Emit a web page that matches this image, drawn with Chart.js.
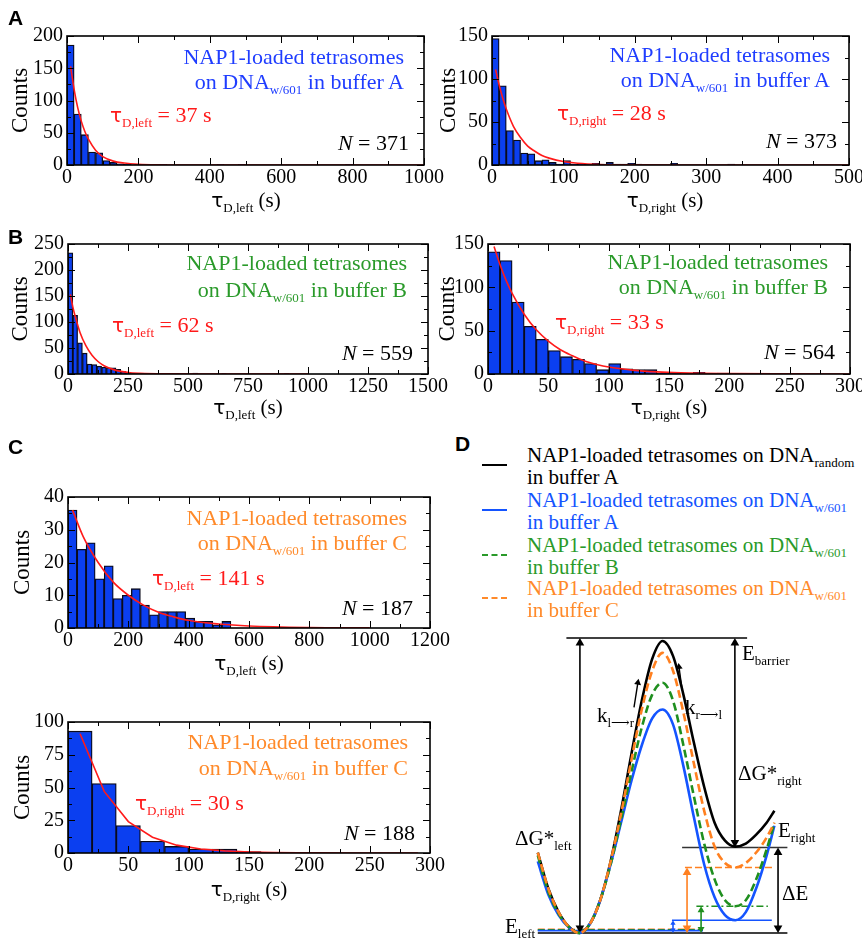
<!DOCTYPE html>
<html>
<head>
<meta charset="utf-8">
<script src="https://cdn.jsdelivr.net/npm/chart.js@4.4.1/dist/chart.umd.min.js"></script>
<style>
  body { margin:0; width:862px; height:938px; position:relative; overflow:hidden; background:#fff; font-family:"Liberation Serif", "DejaVu Serif", serif; }
  canvas { position:absolute; }
  .lbl { position:absolute; white-space:nowrap; font-size:21px; line-height:1; }
  .ann { font-size:22px; }
  .lbl sub { font-size:13px; vertical-align:-5px; line-height:0; }
  .tau { font-family:"DejaVu Sans", sans-serif; font-size:20px; }
  .letter { position:absolute; white-space:nowrap; font-family:"Liberation Sans", Arial, sans-serif; font-weight:bold; font-size:21px; line-height:1; }
  .sw { position:absolute; width:25px; height:0; border-top:2px solid #000; }
</style>
</head>
<body>
<script>
// ---- histogram data ----
// A: buffer A, left / right dwell times
var binA1 = 20;
var countsA1 = [186,79,47,20,19,7,4,2,1,0, 1,0,1,1,0,0,0,0,0,0, 0,1,0,0,1,0,0,0,0,0,
                0,0,0,0,0,0,0,0,0,1, 0,0,0,0,0,0,0,0,0,0];
var fitXA1 = [10,20,30,40,50,60,80,100,130,160,200,250,300,400,600,800,1000];
var fitYA1 = [153,117,89,68,52,40,23,13,6,3,1,0.2,0.1,0,0,0,0];

var binA2 = 10;
var countsA2 = [147,92,40,29,14,13,5,6,3,1, 5,1,2,1,2,1,3,1,1,2, 1,0,0,0,0,2,0,0,0,0,
                0,0,0,1,0,0,0,0,0,0, 0,0,0,0,0,0,0,0,0,0];
var fitXA2 = [5,10,15,20,30,40,50,60,70,80,100,120,150,200,300,500];
var fitYA2 = [111,93,78,65,45,32,22,16,11,8,4,2,0.6,0.1,0,0];

// B: buffer B
var binB1 = 20;
var countsB1 = [233,113,60,40,19,18,15,13,12,12, 9,5,3,1,0,1,0,0,1,0, 0,1,1,0,0,0,2,0,0,0,
                0,0,1,0,0,0,0,0,0,0, 0,0,0,0,0,1,0,0,0,0];
var fitXB1 = [10,20,30,50,75,100,125,150,200,250,300,400,600,1000];
var fitYB1 = [153,129,111,80,54,36,24,16,7,3,1.4,0.3,0,0];

var binB2 = 10;
var countsB2 = [141,131,83,55,40,27,20,17,12,5, 12,6,5,5,1,1,0,2,0,1, 0,0,0,0,0,0,0,0,0,0];
var fitXB2 = [5,10,15,20,30,40,50,60,70,80,90,100,120,140,160,200,250,300];
var fitYB2 = [147,126,108,93,69,51,38,28,21,15,11,8,4.5,2.4,1.3,0.4,0.1,0];

// C: buffer C
var binC1 = 30;
var countsC1 = [36,24,26,15,19,9,10,12,7,4, 5,5,5,3,2,2,1,2,0,0];
var fitXC1 = [15,50,100,150,200,250,300,350,400,500,600,800,1000];
var fitYC1 = [36,28,20,14,10,7,4.8,3.4,2.3,1.2,0.6,0.14,0.03];

var binC2 = 20;
var countsC2 = [93,53,21,9,5,3,3,1,0,0,0,0,0,0,0];
var fitXC2 = [10,30,50,70,90,110,130,150,170,190,210,230,250,270,290];
var fitYC2 = [91,47,24,12,6,3,1.6,0.8,0.4,0.2,0.1,0,0,0,0];

// ---- D: energy landscape (reaction coordinate vs energy, arbitrary units) ----
var landX      = [3,7,11,15,19,23,27,31,35,39,43,47,51,55,59,63,67,71,75,79,83,87,91,94];
var landBlack  = [27,15,7,2,0,3,11,24,41,60,78,92,98,93,80,64,49,37,31,29,30,33,37,41];
var landOrange = [27,15,7,2,0,3,11,24,40,58,75,88,94,88,74,57,41,29,23.5,22,23.5,27,32,37];
var landGreen  = [26,14,6.5,2,0,3,11,23,38,54,69,80,84,78,63,46,30,18,11,9,11,18,28,37];
var landBlue   = [24,13,6,1.8,0,3,11,23,37,51,63,72,75,70,56,39,23,12,6,4.3,7,15,26,36];
var eBarrier = 99, eRight = 28.7, eOrange = 22, eGreen = 9, eBlue = 4.3;

var red = '#ff1a1a', blueT = '#1f3dff', greenT = '#2a9a2a', orangeT = '#ff8a2a';
var cBlue = '#1454ff', cGreen = '#1f8f1f', cOrange = '#ff8020';

Chart.defaults.font.family = '"Liberation Serif", "DejaVu Serif", serif';
Chart.defaults.color = '#000';

function makeCanvas(left, top, w, h) {
  var c = document.createElement('canvas');
  c.width = w; c.height = h;
  c.style.left = left + 'px'; c.style.top = top + 'px';
  c.style.width = w + 'px'; c.style.height = h + 'px';
  document.body.appendChild(c);
  return c;
}

// box frame with inward ticks on all four sides
var boxTicks = {
  id: 'boxTicks',
  afterDatasetsDraw: function (chart, args, o) {
    var a = chart.chartArea, ctx = chart.ctx, sx = chart.scales.x, sy = chart.scales.y;
    var k, v, p, len, st;
    ctx.save();
    ctx.strokeStyle = '#000';
    ctx.lineWidth = 1;
    ctx.beginPath();
    st = sx.options.ticks.stepSize;
    for (k = 0; k * o.xMinor <= sx.max + 1e-9; k++) {
      v = k * o.xMinor;
      p = Math.round(sx.getPixelForValue(v)) + 0.5;
      len = Math.abs(v / st - Math.round(v / st)) < 1e-6 ? 7 : 4;
      ctx.moveTo(p, a.bottom); ctx.lineTo(p, a.bottom - len);
      ctx.moveTo(p, a.top); ctx.lineTo(p, a.top + len);
    }
    st = sy.options.ticks.stepSize;
    for (k = 0; k * o.yMinor <= sy.max + 1e-9; k++) {
      v = k * o.yMinor;
      p = Math.round(sy.getPixelForValue(v)) + 0.5;
      len = Math.abs(v / st - Math.round(v / st)) < 1e-6 ? 7 : 4;
      ctx.moveTo(a.left, p); ctx.lineTo(a.left + len, p);
      ctx.moveTo(a.right, p); ctx.lineTo(a.right - len, p);
    }
    ctx.stroke();
    ctx.lineWidth = 1.6;
    ctx.strokeRect(a.left, a.top, a.right - a.left, a.bottom - a.top);
    ctx.restore();
  }
};

function plain(v) { return String(v); }

function histogram(p) {
  var padT = 12, padR = 26, xh = 30;
  var cl = p.countsX - 17, yw = p.L - cl;
  var c = makeCanvas(cl, p.T - padT, yw + (p.R - p.L) + padR, padT + (p.B - p.T) + xh);
  var bars = p.counts.map(function (n, i) { return { x: (i + 0.5) * p.bin, y: n }; });
  var fit = p.fitX.map(function (x, i) { return { x: x, y: p.fitY[i] }; });
  new Chart(c, {
    data: {
      datasets: [
        { type: 'line', data: fit, borderColor: red, borderWidth: 1.6, pointRadius: 0,
          tension: p.smooth ? 0.4 : 0, cubicInterpolationMode: p.smooth ? 'monotone' : 'default', order: 0 },
        { type: 'bar', data: bars, backgroundColor: '#0b3ff0', borderColor: '#0a0a1a', borderWidth: 1.3,
          barPercentage: 1, categoryPercentage: 1, order: 1 }
      ]
    },
    options: {
      responsive: false, animation: false, events: [],
      layout: { padding: { top: padT, right: padR, left: 0, bottom: 0 } },
      plugins: { legend: { display: false }, tooltip: { enabled: false },
                 boxTicks: { xMinor: p.xStep / 2, yMinor: p.yStep / 2 } },
      scales: {
        x: { type: 'linear', offset: false, min: 0, max: p.xMax, grid: { display: false, drawTicks: false }, border: { display: false },
             ticks: { stepSize: p.xStep, padding: 1, maxRotation: 0, autoSkip: false, font: { size: 20 }, callback: plain },
             afterFit: function (s) { s.height = xh; } },
        y: { type: 'linear', min: 0, max: p.yMax, grid: { display: false, drawTicks: false }, border: { display: false },
             ticks: { stepSize: p.yStep, padding: 4, autoSkip: false, font: { size: 20 }, callback: plain },
             title: { display: true, text: 'Counts', font: { size: 23 }, padding: { top: 4, bottom: 0 } },
             afterFit: function (s) { s.width = yw; } }
      }
    },
    plugins: [boxTicks]
  });
}

histogram({ L: 67, T: 32, R: 424, B: 165, countsX: 20, bin: binA1, counts: countsA1, fitX: fitXA1, fitY: fitYA1,
            xMax: 1000, xStep: 200, yMax: 200, yStep: 50, smooth: true });
histogram({ L: 492, T: 32, R: 849, B: 165, countsX: 448, bin: binA2, counts: countsA2, fitX: fitXA2, fitY: fitYA2,
            xMax: 500, xStep: 100, yMax: 150, yStep: 50, smooth: true });
histogram({ L: 68, T: 240, R: 428, B: 374, countsX: 20, bin: binB1, counts: countsB1, fitX: fitXB1, fitY: fitYB1,
            xMax: 1500, xStep: 250, yMax: 250, yStep: 50, smooth: true });
histogram({ L: 488, T: 240, R: 850, B: 374, countsX: 447, bin: binB2, counts: countsB2, fitX: fitXB2, fitY: fitYB2,
            xMax: 300, xStep: 50, yMax: 150, yStep: 50, smooth: true });
histogram({ L: 68, T: 493, R: 430, B: 628, countsX: 22, bin: binC1, counts: countsC1, fitX: fitXC1, fitY: fitYC1,
            xMax: 1200, xStep: 200, yMax: 40, yStep: 10, smooth: true });
histogram({ L: 68, T: 718, R: 430, B: 853, countsX: 22, bin: binC2, counts: countsC2, fitX: fitXC2, fitY: fitYC2,
            xMax: 300, xStep: 50, yMax: 100, yStep: 25, smooth: false });

// ---- panel D ----
function pts(xs, ys) { return xs.map(function (x, i) { return { x: x, y: ys[i] }; }); }
var dsets = [];
function curve(ys, color, dash, ord) {
  dsets.push({ data: pts(landX, ys), borderColor: color, borderWidth: 2.6, borderDash: dash || [], pointRadius: 0,
               cubicInterpolationMode: 'monotone', clip: false, order: ord });
}
function level(x0, x1, y, color, width, dash) {
  dsets.push({ data: [{ x: x0, y: y }, { x: x1, y: y }], borderColor: color, borderWidth: width, borderDash: dash || [],
               pointRadius: 0, clip: false, order: 20 });
}
// vertical arrow, heads at both ends (head centres pulled in so the tips touch the levels)
function varrow(x, y0, y1, color, r) {
  var d = r / 3;
  dsets.push({ data: [{ x: x, y: y0 + d }, { x: x, y: y1 - d }], borderColor: color, borderWidth: 1.6,
               pointStyle: 'triangle', pointRadius: r, pointRotation: [180, 0], pointBackgroundColor: color,
               pointBorderWidth: 0, clip: false, order: 15 });
}
function karrow(x0, y0, x1, y1, rot) {
  dsets.push({ data: [{ x: x0, y: y0 }, { x: x1, y: y1 }], borderColor: '#000', borderWidth: 1.4,
               pointStyle: 'triangle', pointRadius: [0, 4], pointRotation: rot, pointBackgroundColor: '#000',
               pointBorderWidth: 0, clip: false, order: 15 });
}

level(14, 83.5, eBarrier, '#000', 1.3);
level(58.5, 99, eRight, '#333', 1.5);
level(3, 99, 0, '#000', 1.6);
level(59.6, 94.2, eOrange, cOrange, 1.6, [7, 3]);
level(64, 91.5, eGreen, cGreen, 1.6, [7, 3, 2, 3]);
level(54.6, 93, eBlue, cBlue, 1.6);
level(3, 66.5, 0.8, cBlue, 1.8);
level(3, 66.5, 1.0, cGreen, 1.8, [7, 3]);
level(3, 66.5, 1.2, cOrange, 1.8, [7, 3]);
varrow(19.2, 0, eBarrier, '#000', 5);
varrow(78.8, eRight, eBarrier, '#000', 5);
varrow(95.4, 0, eRight, '#000', 5);
varrow(60.4, 0, eOrange, cOrange, 5);
varrow(65.8, 0, eGreen, cGreen, 4);
varrow(55, 0, eBlue, cBlue, 3);
karrow(40, 75.7, 41.5, 84, 9);
karrow(58.5, 81.7, 57.3, 89.3, -7);
curve(landBlack, '#000', [], 10);
curve(landBlue, cBlue, [], 9);
curve(landGreen, cGreen, [8, 4], 8);
curve(landOrange, cOrange, [8, 4], 7);

new Chart(makeCanvas(480, 620, 382, 318), {
  type: 'scatter',
  data: { datasets: dsets.map(function (d) { d.showLine = true; return d; }) },
  options: {
    responsive: false, animation: false, events: [],
    layout: { padding: { left: 50, right: 72, top: 15, bottom: 3 } },
    plugins: { legend: { display: false }, tooltip: { enabled: false } },
    scales: { x: { type: 'linear', min: 0, max: 100, display: false },
              y: { type: 'linear', min: 0, max: 100, display: false } }
  }
});

// ---- text ----
function text(html, x, y, color, align, cls) {
  var d = document.createElement('div');
  d.className = cls || 'lbl';
  d.innerHTML = html;
  d.style.left = x + 'px';
  d.style.top = y + 'px';
  d.style.color = color || '#000';
  var tx = align === 'right' ? '-100%' : align === 'center' ? '-50%' : '0';
  d.style.transform = 'translate(' + tx + ',-50%)';
  document.body.appendChild(d);
}
var T = '<span class="tau">τ</span>';
var A = 'lbl ann';

text('A', 8, 17, '#000', 'left', 'letter');
text('B', 8, 236, '#000', 'left', 'letter');
text('C', 8, 446, '#000', 'left', 'letter');
text('D', 455, 443, '#000', 'left', 'letter');

// A
text('NAP1-loaded tetrasomes', 404, 57, blueT, 'right', A);
text('on DNA<sub>w/601</sub> in buffer A', 404, 82, blueT, 'right', A);
text(T + '<sub>D,left</sub> = 37 s', 110, 115, red, 'left', A);
text('<i>N</i> = 371', 409, 143, '#000', 'right', A);
text(T + '<sub>D,left</sub> (s)', 246, 200, '#000', 'center');
text('NAP1-loaded tetrasomes', 830, 55, blueT, 'right', A);
text('on DNA<sub>w/601</sub> in buffer A', 830, 80, blueT, 'right', A);
text(T + '<sub>D,right</sub> = 28 s', 557, 113, red, 'left', A);
text('<i>N</i> = 373', 837, 141, '#000', 'right', A);
text(T + '<sub>D,right</sub> (s)', 665, 200, '#000', 'center');
// B
text('NAP1-loaded tetrasomes', 407, 263, greenT, 'right', A);
text('on DNA<sub>w/601</sub> in buffer B', 407, 290, greenT, 'right', A);
text(T + '<sub>D,left</sub> = 62 s', 112, 325, red, 'left', A);
text('<i>N</i> = 559', 413, 353, '#000', 'right', A);
text(T + '<sub>D,left</sub> (s)', 248, 407, '#000', 'center');
text('NAP1-loaded tetrasomes', 828, 262, greenT, 'right', A);
text('on DNA<sub>w/601</sub> in buffer B', 828, 287, greenT, 'right', A);
text(T + '<sub>D,right</sub> = 33 s', 555, 322, red, 'left', A);
text('<i>N</i> = 564', 835, 352, '#000', 'right', A);
text(T + '<sub>D,right</sub> (s)', 669, 407, '#000', 'center');
// C
text('NAP1-loaded tetrasomes', 407, 518, orangeT, 'right', A);
text('on DNA<sub>w/601</sub> in buffer C', 407, 543, orangeT, 'right', A);
text(T + '<sub>D,left</sub> = 141 s', 152, 578, red, 'left', A);
text('<i>N</i> = 187', 413, 608, '#000', 'right', A);
text(T + '<sub>D,left</sub> (s)', 249, 663, '#000', 'center');
text('NAP1-loaded tetrasomes', 408, 742, orangeT, 'right', A);
text('on DNA<sub>w/601</sub> in buffer C', 408, 768, orangeT, 'right', A);
text(T + '<sub>D,right</sub> = 30 s', 135, 803, red, 'left', A);
text('<i>N</i> = 188', 415, 833, '#000', 'right', A);
text(T + '<sub>D,right</sub> (s)', 249, 889, '#000', 'center');

// D legend
var legend = [
  ['NAP1-loaded tetrasomes on DNA<sub>random</sub>', 'in buffer A', '#000', 455, 'solid'],
  ['NAP1-loaded tetrasomes on DNA<sub>w/601</sub>', 'in buffer A', cBlue, 500, 'solid'],
  ['NAP1-loaded tetrasomes on DNA<sub>w/601</sub>', 'in buffer B', greenT, 545, 'dashed'],
  ['NAP1-loaded tetrasomes on DNA<sub>w/601</sub>', 'in buffer C', orangeT, 588, 'dashed']
];
legend.forEach(function (r) {
  text(r[0], 527, r[3], r[2]);
  text(r[1], 527, r[3] + 22, r[2]);
  var s = document.createElement('div');
  s.className = 'sw';
  s.style.left = '482px';
  s.style.top = (r[3] + 9) + 'px';
  s.style.borderTop = '2px ' + r[4] + ' ' + r[2];
  document.body.appendChild(s);
});

// D annotations
text('E<sub>barrier</sub>', 742, 653);
text('ΔG*<sub>right</sub>', 738, 773);
text('E<sub>right</sub>', 778, 830);
text('ΔE', 782, 893);
text('ΔG*<sub>left</sub>', 515, 838);
text('E<sub>left</sub>', 505, 926);
text('k<sub>l⟶r</sub>', 597, 715);
text('k<sub>r⟶l</sub>', 685, 707);
</script>
</body>
</html>
